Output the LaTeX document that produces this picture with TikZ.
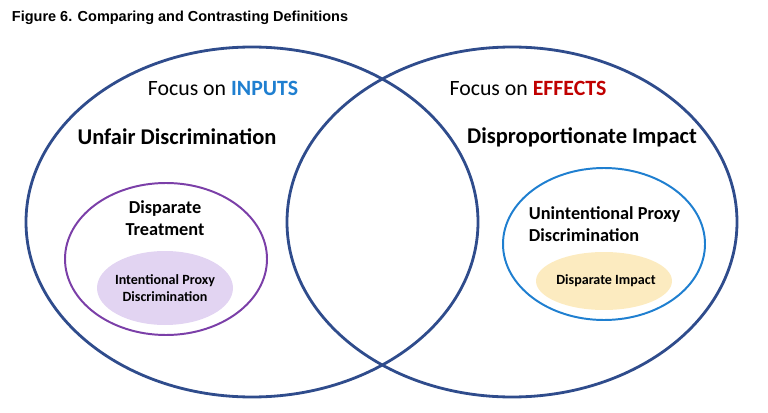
\documentclass[tikz,border=0pt]{standalone}
\usepackage{fontspec}
\setmainfont{Carlito}
\newfontfamily\arialfont{Liberation Sans}
\usetikzlibrary{calc}
\definecolor{ringblue}{HTML}{2F4C8C}
\definecolor{inblue}{HTML}{1F7FD0}
\definecolor{effred}{HTML}{C00000}
\definecolor{purp}{HTML}{7B3FA8}
\definecolor{lav}{HTML}{E2D4F2}
\definecolor{cream}{HTML}{FCEBC0}
\tikzset{
  ring/.style={draw=ringblue, line width=2pt},
  focus/.style={font=\fontsize{15.5}{18}\selectfont},
  head/.style={font=\bfseries\fontsize{16}{19}\selectfont},
  sub/.style={font=\bfseries\fontsize{13}{15.5}\selectfont, align=center},
  small/.style={font=\bfseries\fontsize{10}{12.5}\selectfont, align=center}
}
\begin{document}
\begin{tikzpicture}[x=0.025cm, y=-0.025cm]
        \useasboundingbox (0,0) rectangle (768,413);
        % title
        \node[anchor=west, font=\arialfont\bfseries\fontsize{10.3}{12}\selectfont] (title) at (7,18) {Figure 6. Comparing and Contrasting Definitions};
        % big circles
        \draw[ring] (252,222) ellipse (226 and 175);
        \draw[ring] (512,222) ellipse (225 and 175);
        % left side
        \node[focus] (finputs) at (223,88) {Focus on \textcolor{inblue}{\textbf{INPUTS}}};
        \node[head] (unfair) at (177,137) {Unfair Discrimination};
        \draw[draw=purp, line width=1.4pt] (166,259) ellipse (101 and 76);
        \node[sub] (treat) at (165,218) {Disparate\\Treatment};
        \fill[lav] (165,288) ellipse (68 and 37);
        \node[small] (intproxy) at (165,288) {Intentional Proxy\\Discrimination};
        % right side
        \node[focus] (feffects) at (528,88) {Focus on \textcolor{effred}{\textbf{EFFECTS}}};
        \node[head] (dispro) at (582,137) {Disproportionate Impact};
        \draw[draw=inblue, line width=1.4pt] (604,244) ellipse (101 and 76);
        \node[sub, align=left, anchor=west] (unproxy) at (524,224) {Unintentional Proxy\\Discrimination};
        \fill[cream] (604,281) ellipse (68 and 29);
        \node[small] (dimpact) at (606,281) {Disparate Impact};
\end{tikzpicture}
\end{document}
